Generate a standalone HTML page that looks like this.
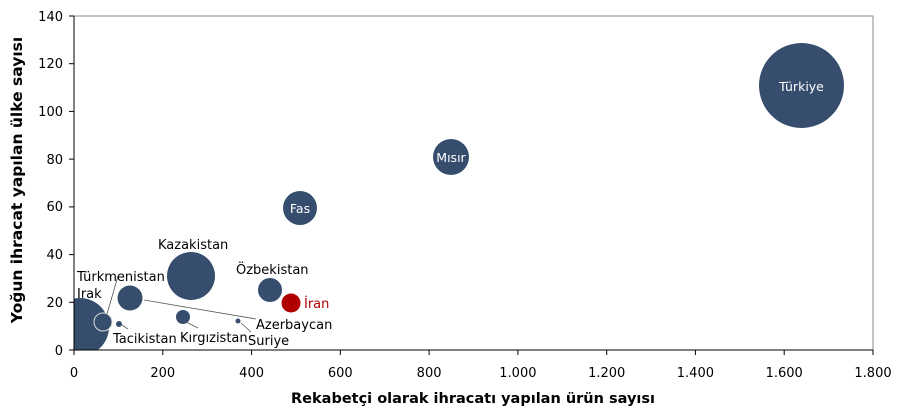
<!DOCTYPE html>
<html><head><meta charset="utf-8"><style>body{margin:0;background:#fff}svg{display:block}text{font-family:"DejaVu Sans","Liberation Sans",sans-serif}</style></head><body>
<svg width="906" height="416" viewBox="0 0 906 416" xmlns="http://www.w3.org/2000/svg">
<defs><clipPath id="c"><rect x="74" y="16" width="799" height="334"/></clipPath></defs>
<rect x="74" y="16" width="799" height="334" fill="none" stroke="#8a8a8a" stroke-width="1"/>
<g clip-path="url(#c)" fill="#364d6e">
<circle cx="80" cy="327" r="29"/>
<circle cx="103" cy="322" r="9" stroke="#ddd" stroke-width="1"/>
<circle cx="119" cy="324" r="3"/>
<circle cx="130" cy="298" r="12.5"/>
<circle cx="191" cy="276" r="24"/>
<circle cx="183" cy="317" r="7"/>
<circle cx="238" cy="321" r="2.5"/>
<circle cx="270" cy="290" r="12"/>
<circle cx="291" cy="303" r="9.5" fill="#b00000"/>
<circle cx="300" cy="208" r="17"/>
<circle cx="451" cy="157" r="18"/>
<circle cx="801.5" cy="85.5" r="42.5"/>
</g>
<g stroke="#555" stroke-width="0.8" fill="none">
<line x1="107" y1="314" x2="118" y2="276"/>
<line x1="144" y1="300" x2="256" y2="319"/>
<line x1="122" y1="325" x2="128" y2="329"/>
<line x1="186" y1="322" x2="198" y2="328"/>
<line x1="241" y1="323" x2="251" y2="332"/>
</g>
<g stroke="#000" stroke-width="1">
<line x1="74" y1="16" x2="74" y2="350"/>
<line x1="74" y1="350" x2="873" y2="350"/>
<line x1="69" y1="350" x2="74" y2="350"/><line x1="69" y1="302.3" x2="74" y2="302.3"/><line x1="69" y1="254.6" x2="74" y2="254.6"/><line x1="69" y1="206.9" x2="74" y2="206.9"/><line x1="69" y1="159.1" x2="74" y2="159.1"/><line x1="69" y1="111.4" x2="74" y2="111.4"/><line x1="69" y1="63.7" x2="74" y2="63.7"/><line x1="69" y1="16" x2="74" y2="16"/>
<line x1="74" y1="350" x2="74" y2="355"/><line x1="162.8" y1="350" x2="162.8" y2="355"/><line x1="251.6" y1="350" x2="251.6" y2="355"/><line x1="340.3" y1="350" x2="340.3" y2="355"/><line x1="429.1" y1="350" x2="429.1" y2="355"/><line x1="517.9" y1="350" x2="517.9" y2="355"/><line x1="606.7" y1="350" x2="606.7" y2="355"/><line x1="695.4" y1="350" x2="695.4" y2="355"/><line x1="784.2" y1="350" x2="784.2" y2="355"/><line x1="873" y1="350" x2="873" y2="355"/>
</g>
<g font-size="13" fill="#000" text-anchor="end">
<text x="63" y="355">0</text><text x="63" y="307">20</text><text x="63" y="259">40</text><text x="63" y="211">60</text><text x="63" y="164">80</text><text x="63" y="116">100</text><text x="63" y="68">120</text><text x="63" y="21">140</text>
</g>
<g font-size="13" fill="#000" text-anchor="middle">
<text x="74" y="377">0</text><text x="162.8" y="377">200</text><text x="251.6" y="377">400</text><text x="340.3" y="377">600</text><text x="429.1" y="377">800</text><text x="517.9" y="377">1.000</text><text x="606.7" y="377">1.200</text><text x="695.4" y="377">1.400</text><text x="784.2" y="377">1.600</text><text x="873" y="377">1.800</text>
</g>
<text x="473" y="403" font-size="14.5" font-weight="bold" text-anchor="middle">Rekabetçi olarak ihracatı yapılan ürün sayısı</text>
<text transform="translate(22,180) rotate(-90)" font-size="15.5" font-weight="bold" text-anchor="middle">Yoğun ihracat yapılan ülke sayısı</text>
<g font-size="13" fill="#000">
<text x="158" y="249">Kazakistan</text>
<text x="236" y="274">Özbekistan</text>
<text x="77" y="281">Türkmenistan</text>
<text x="77" y="298">Irak</text>
<text x="113" y="343">Tacikistan</text>
<text x="180" y="342">Kırgızistan</text>
<text x="256" y="329">Azerbaycan</text>
<text x="248" y="345">Suriye</text>
<text x="304" y="308" fill="#b00000">İran</text>
</g>
<g font-size="12.5" fill="#fff" text-anchor="middle">
<text x="300" y="213">Fas</text>
<text x="451" y="162">Mısır</text>
<text x="801.5" y="91">Türkiye</text>
</g>
</svg>
</body></html>
